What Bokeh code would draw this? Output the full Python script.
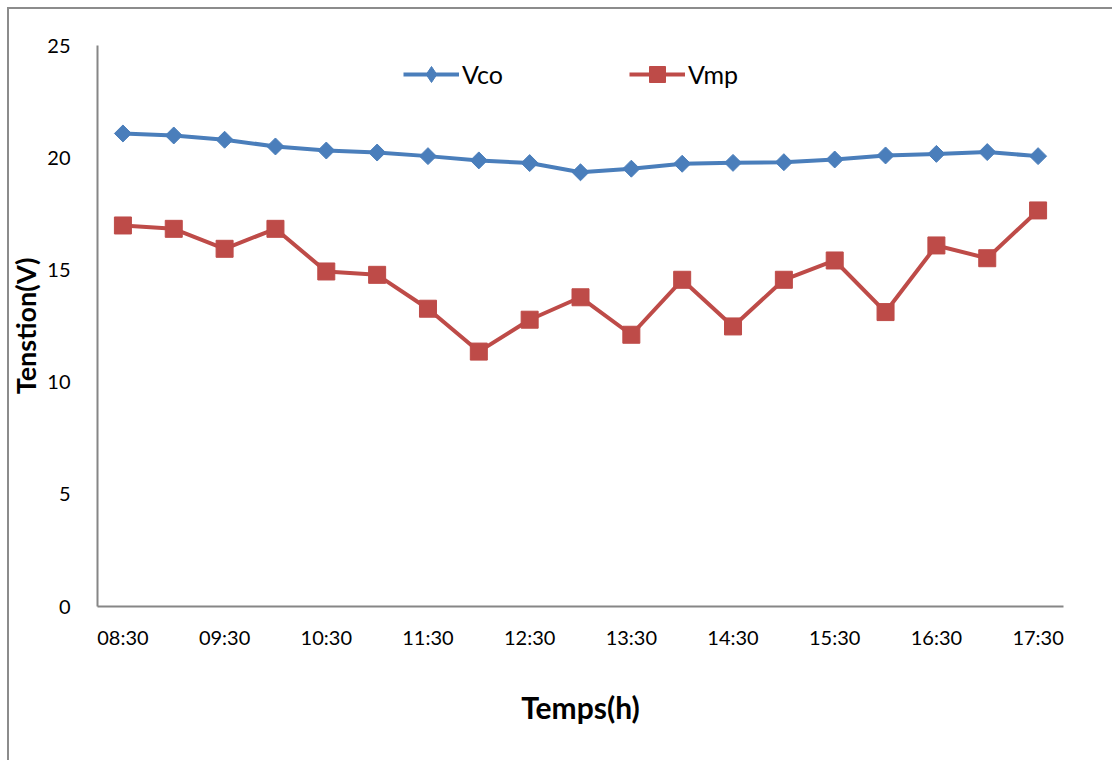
import math

from bokeh.embed import file_html
from bokeh.models import FixedTicker, Legend, LegendItem, Range1d
from bokeh.plotting import figure
from bokeh.resources import INLINE

# Half-hourly measurements of panel voltage
times = ["08:30", "09:00", "09:30", "10:00", "10:30", "11:00", "11:30", "12:00",
         "12:30", "13:00", "13:30", "14:00", "14:30", "15:00", "15:30", "16:00",
         "16:30", "17:00", "17:30"]
vco = [21.08, 20.99, 20.80, 20.50, 20.32, 20.23, 20.07, 19.88, 19.76, 19.35,
       19.51, 19.73, 19.77, 19.80, 19.92, 20.10, 20.17, 20.25, 20.07]
vmp = [16.98, 16.83, 15.94, 16.83, 14.93, 14.78, 13.27, 11.36, 12.78, 13.78,
       12.11, 14.56, 12.48, 14.56, 15.42, 13.12, 16.09, 15.52, 17.65]
y_ticks = [0, 5, 10, 15, 20, 25]

idx = list(range(len(times)))
hour_ticks = idx[::2]

FONT = "Lato"
AXIS_GREY = "#868686"
FRAME_GREY = "#8c8c8c"
BLUE = "#4A7EBB"
RED = "#BE4B48"

p = figure(
    width=1112, height=760,
    x_range=Range1d(-0.5, len(times) - 0.5),
    y_range=Range1d(0, 25),
    output_backend="svg", toolbar_location=None,
    min_border_left=97, min_border_right=49,
    min_border_top=45, min_border_bottom=154,
)
# chart-area border: left and top edges, drawn behind a transparent canvas
p.styles = {
    "background": (
        f"linear-gradient({FRAME_GREY},{FRAME_GREY}) 7px 7px / 2px 100% no-repeat, "
        f"linear-gradient({FRAME_GREY},{FRAME_GREY}) 7px 7px / 100% 2px no-repeat, "
        "white"
    ),
}
p.border_fill_alpha = 0
p.background_fill_alpha = 0
p.outline_line_color = None
p.xgrid.visible = False
p.ygrid.visible = False

# axes
p.xaxis.ticker = FixedTicker(ticks=hour_ticks)
p.xaxis.major_label_overrides = {i: times[i] for i in hour_ticks}
p.yaxis.ticker = FixedTicker(ticks=y_ticks)
for ax in (p.xaxis, p.yaxis):
    ax.axis_line_color = AXIS_GREY
    ax.axis_line_width = 2
    ax.major_tick_line_color = None
    ax.minor_tick_line_color = None
    ax.major_tick_out = 0
    ax.major_tick_in = 0
    ax.minor_tick_out = 0
    ax.major_label_text_font = FONT
    ax.major_label_text_font_size = "20px"
    ax.major_label_text_color = "black"
    ax.axis_label_text_font = FONT
    ax.axis_label_text_font_style = "bold"
    ax.axis_label_text_color = "black"

p.xaxis.axis_label = "Temps(h)"
p.yaxis.axis_label = "Tenstion(V)"
p.xaxis.axis_label_text_font_size = "30px"
p.yaxis.axis_label_text_font_size = "27px"
p.xaxis.major_label_standoff = 18
p.yaxis.major_label_standoff = 27
p.xaxis.axis_label_standoff = 37
p.yaxis.axis_label_standoff = 2

# series
vco_line = p.line(idx, vco, line_color=BLUE, line_width=4)
p.scatter(idx, vco, marker="square", size=12, angle=math.pi / 4,
          fill_color=BLUE, line_color=BLUE)
vmp_line = p.line(idx, vmp, line_color=RED, line_width=4)
vmp_pts = p.scatter(idx, vmp, marker="square", size=17,
                    fill_color=RED, line_color=RED)

# legend swatch for the diamond markers (a single off-chart NaN point)
nan = float("nan")
vco_key = p.scatter(x=[nan], y=[nan], marker="diamond", size=19,
                    fill_color=BLUE, line_color=BLUE)

leg = Legend(items=[
    LegendItem(label="Vco", renderers=[vco_line, vco_key]),
    LegendItem(label="Vmp", renderers=[vmp_line, vmp_pts]),
])
leg.orientation = "horizontal"
leg.location = (306, 512)
leg.padding = 0
leg.margin = 0
leg.spacing = 126
leg.glyph_width = 56
leg.glyph_height = 40
leg.label_height = 34
leg.label_standoff = 3
leg.label_text_font = FONT
leg.label_text_font_size = "25px"
leg.label_text_color = "black"
leg.border_line_color = None
leg.background_fill_alpha = 0
p.add_layout(leg, "center")

open("out.html", "w").write(file_html(p, INLINE))
